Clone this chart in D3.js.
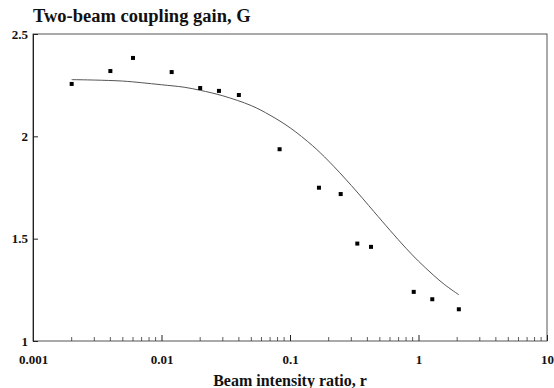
<!DOCTYPE html>
<html lang="en">
<head>
<meta charset="UTF-8">
<title>Two-beam coupling gain</title>
<script src="https://cdnjs.cloudflare.com/ajax/libs/d3/7.8.5/d3.min.js"></script>
<style>
	body { margin: 0; background: #fff; }
	svg { display: block; }
	.frame { fill: none; stroke: #555; stroke-width: 1; }
	.axis path, .axis line { stroke: #222; }
</style>
</head>
<body>
<div id="container"></div>
<script>
	// measured points (beam ratio r, gain G)
	var ratio = [0.002, 0.004, 0.006, 0.012, 0.02, 0.028, 0.04, 0.083, 0.168, 0.248, 0.334, 0.427, 0.918, 1.28, 2.06];
	var gain  = [2.256, 2.319, 2.383, 2.314, 2.236, 2.222, 2.202, 1.937, 1.749, 1.718, 1.476, 1.46, 1.24, 1.204, 1.155];

	// fitted curve
	var fitR = [0.002, 0.003, 0.005, 0.007, 0.01, 0.015, 0.02, 0.03, 0.05, 0.07, 0.1, 0.15, 0.2, 0.3, 0.45, 0.6, 0.8, 1, 1.3, 1.6, 2.06];
	var fitG = [2.277, 2.275, 2.27, 2.262, 2.252, 2.24, 2.225, 2.198, 2.15, 2.103, 2.042, 1.954, 1.879, 1.76, 1.632, 1.541, 1.453, 1.39, 1.323, 1.275, 1.226];

	var xTicks = [0.001, 0.01, 0.1, 1, 10];
	var yTicks = [1, 1.5, 2, 2.5];

	var serif = "'Liberation Serif', 'Times New Roman', Times, serif";

	var width = 554, height = 388;
	var margin = {left: 33, right: 7, top: 34, bottom: 47};
	var w = width - margin.left - margin.right;
	var h = height - margin.top - margin.bottom;

	var svg = d3.select("#container").append("svg")
		.attr("width", width)
		.attr("height", height);

	var g = svg.append("g")
		.attr("transform", "translate(" + margin.left + "," + margin.top + ")");

	var x = d3.scaleLog().domain([0.001, 10]).range([0, w]);
	var y = d3.scaleLinear().domain([1, 2.5]).range([h, 0]);

	// box
	g.append("rect")
		.attr("class", "frame")
		.attr("x", 0).attr("y", 0)
		.attr("width", w).attr("height", h);

	// minor ticks along bottom, pointing inward
	var minor = [];
	[0.001, 0.01, 0.1, 1].forEach(function(d) {
		for (var k = 2; k <= 9; k++) minor.push(d * k);
	});
	g.selectAll(".minor").data(minor)
		.enter().append("line")
		.attr("class", "minor")
		.attr("x1", function(d) { return x(d); })
		.attr("x2", function(d) { return x(d); })
		.attr("y1", h)
		.attr("y2", h - 4)
		.attr("stroke", "#333")
		.attr("stroke-width", 0.8);

	var xAxis = g.append("g")
		.attr("class", "axis")
		.attr("transform", "translate(0," + h + ")")
		.call(d3.axisBottom(x).tickValues(xTicks).tickSize(-6).tickPadding(14)
			.tickFormat(function(d) { return String(d); }));
	xAxis.select(".domain").remove();
	xAxis.selectAll("text")
		.attr("font-family", serif)
		.attr("font-weight", "bold")
		.attr("fill", "#111")
		.style("font-size", "13px");

	var yAxis = g.append("g")
		.attr("class", "axis")
		.call(d3.axisLeft(y).tickValues(yTicks).tickSize(-5).tickPadding(5)
			.tickFormat(function(d) { return String(d); }));
	yAxis.select(".domain").attr("stroke", "#222");
	yAxis.selectAll("text")
		.attr("font-family", serif)
		.attr("font-weight", "bold")
		.attr("fill", "#111")
		.style("font-size", "13px");

	// fitted curve
	var fit = d3.zip(fitR, fitG);
	g.append("path")
		.datum(fit)
		.attr("fill", "none")
		.attr("stroke", "#555")
		.attr("stroke-width", 1)
		.attr("d", d3.line()
			.x(function(d) { return x(d[0]); })
			.y(function(d) { return y(d[1]); })
			.curve(d3.curveCatmullRom));

	// data points
	g.selectAll(".pt").data(d3.zip(ratio, gain))
		.enter().append("rect")
		.attr("class", "pt")
		.attr("x", function(d) { return x(d[0]) - 2; })
		.attr("y", function(d) { return y(d[1]) - 2; })
		.attr("width", 4)
		.attr("height", 4)
		.attr("fill", "#000");

	svg.append("text")
		.attr("x", 33)
		.attr("y", 22)
		.attr("font-family", serif)
		.attr("font-weight", "bold")
		.attr("fill", "#111")
		.style("font-size", "18.5px")
		.text("Two-beam coupling gain, G");

	svg.append("text")
		.attr("x", margin.left + w / 2)
		.attr("y", 386)
		.attr("text-anchor", "middle")
		.attr("font-family", serif)
		.attr("font-weight", "bold")
		.attr("fill", "#111")
		.style("font-size", "16px")
		.text("Beam intensity ratio, r");
</script>
</body>
</html>
